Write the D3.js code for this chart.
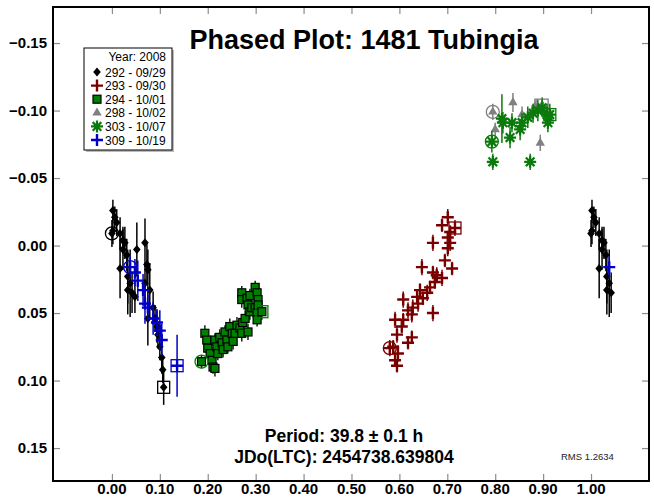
<!DOCTYPE html>
<html>
<head>
<meta charset="utf-8">
<script src="https://cdn.jsdelivr.net/npm/d3@7"></script>
<style>
body{margin:0;background:#fff;}
svg{font-family:"Liberation Sans",Arial,sans-serif;}
</style>
</head>
<body>
<div id="chart"></div>
<script>
//Legend text
var yearLabel = "Year: 2008";
var sessions = ["292 - 09/29","293 - 09/30","294 - 10/01","298 - 10/02","303 - 10/07","309 - 10/19"];
var title = "Phased Plot: 1481 Tubingia";
var periodText = "Period: 39.8 \u00b1 0.1 h";
var epochText = "JDo(LTC): 2454738.639804";
var rmsText = "RMS 1.2634";

//Tick values of both axes
var xTicks = [0,0.1,0.2,0.3,0.4,0.5,0.6,0.7,0.8,0.9,1.0];
var yTicks = [-0.15,-0.10,-0.05,0,0.05,0.10,0.15];

//Session 292 (first point gets a circle, last one a square)
var phase292 = [0.000,0.002,0.002,0.006,0.010,0.017,0.017,0.023,0.023,0.027,0.031,0.033,0.033,0.038,0.042,0.048,0.052,0.069,0.069,0.073,0.075,0.075,0.079,0.086,0.090,0.094,0.096,0.100,0.104,0.106,0.108];
var mag292 = [-0.009,-0.026,-0.011,-0.021,-0.017,-0.009,0.017,-0.004,0.003,-0.002,0.007,0.023,0.033,0.028,0.035,0.038,0.003,-0.002,0.028,0.014,0.018,0.054,0.033,0.046,0.054,0.060,0.066,0.075,0.083,0.092,0.105];
var err292 = [0.010,0.008,0.010,0.008,0.010,0.012,0.022,0.010,0.015,0.012,0.012,0.020,0.018,0.025,0.015,0.012,0.020,0.018,0.015,0.015,0.015,0.020,0.020,0.012,0.010,0.012,0.010,0.010,0.012,0.010,0.013];

//Session 293
var phase293 = [0.580,0.587,0.591,0.591,0.595,0.595,0.597,0.605,0.608,0.608,0.618,0.618,0.626,0.626,0.628,0.637,0.639,0.643,0.647,0.649,0.658,0.664,0.670,0.670,0.670,0.674,0.678,0.689,0.689,0.695,0.701,0.701,0.701,0.706,0.706,0.710,0.716];
var mag293 = [0.076,0.075,0.055,0.085,0.066,0.089,0.080,0.060,0.040,0.055,0.048,0.072,0.051,0.068,0.046,0.038,0.043,0.033,0.016,0.039,0.035,0.031,-0.002,0.020,0.050,0.027,0.022,-0.015,0.024,0.011,-0.021,-0.006,0.002,-0.010,-0.002,0.017,-0.013];
var err293 = [0.006,0.005,0.006,0.005,0.006,0.005,0.006,0.005,0.006,0.005,0.006,0.005,0.006,0.005,0.006,0.005,0.006,0.005,0.006,0.005,0.006,0.005,0.006,0.005,0.006,0.005,0.006,0.005,0.006,0.005,0.006,0.005,0.006,0.005,0.006,0.005,0.006];

//Session 294
var phase294 = [0.187,0.194,0.198,0.200,0.205,0.209,0.211,0.215,0.215,0.219,0.221,0.225,0.230,0.232,0.236,0.240,0.242,0.246,0.251,0.253,0.257,0.261,0.267,0.271,0.271,0.271,0.273,0.278,0.282,0.284,0.284,0.288,0.288,0.292,0.299,0.299,0.303,0.303,0.303,0.305,0.305,0.313];
var mag294 = [0.086,0.065,0.070,0.076,0.080,0.085,0.090,0.091,0.070,0.075,0.080,0.068,0.072,0.077,0.064,0.070,0.075,0.060,0.065,0.071,0.065,0.059,0.061,0.065,0.035,0.040,0.057,0.054,0.039,0.064,0.044,0.049,0.037,0.046,0.031,0.046,0.035,0.050,0.055,0.040,0.044,0.049];
var err294 = [0.005,0.006,0.005,0.006,0.005,0.006,0.005,0.006,0.005,0.006,0.005,0.006,0.005,0.006,0.005,0.006,0.005,0.006,0.005,0.006,0.005,0.006,0.005,0.006,0.005,0.006,0.005,0.006,0.005,0.006,0.005,0.006,0.005,0.006,0.005,0.006,0.005,0.006,0.005,0.006,0.005,0.006];

//Session 298
var phase298 = [0.795,0.800,0.837,0.856,0.877,0.883,0.894,0.898];
var mag298 = [-0.099,-0.086,-0.106,-0.097,-0.099,-0.103,-0.076,-0.104];
var err298 = [0.006,0.005,0.007,0.006,0.005,0.006,0.006,0.006];

//Session 303
var phase303 = [0.793,0.795,0.814,0.816,0.831,0.835,0.852,0.856,0.868,0.873,0.879,0.889,0.898,0.908,0.910,0.914];
var mag303 = [-0.077,-0.062,-0.094,-0.091,-0.080,-0.091,-0.086,-0.091,-0.095,-0.062,-0.098,-0.100,-0.102,-0.097,-0.091,-0.097];
var err303 = [0.008,0.006,0.018,0.008,0.008,0.007,0.008,0.007,0.008,0.006,0.007,0.008,0.007,0.008,0.007,0.008];

//Session 309
var phase309 = [0.038,0.048,0.054,0.065,0.069,0.075,0.086,0.094,0.100,0.104,0.136];
var mag309 = [0.016,0.020,0.026,0.033,0.043,0.046,0.054,0.057,0.063,0.070,0.089];
var err309 = [0.008,0.010,0.015,0.012,0.015,0.010,0.012,0.010,0.015,0.012,0.023];

function drawPhasePlot(){
    var w = 654, h = 498;
    var left = 53, top = 7, right = 649, bottom = 481;

    var svg = d3.select("#chart").append("svg")
        .attr("width", w).attr("height", h);

    var x = d3.scaleLinear().domain([-0.123, 1.121]).range([left, right]);
    var y = d3.scaleLinear().domain([-0.1767, 0.1744]).range([top, bottom]);

    //Each session with its marker style
    var series = [
        {name: sessions[0], phase: phase292, mag: mag292, err: err292, color: "#000000", bar: "#000000", sym: "diamond"},
        {name: sessions[1], phase: phase293, mag: mag293, err: err293, color: "#7a0000", bar: "#7a0000", sym: "plus"},
        {name: sessions[2], phase: phase294, mag: mag294, err: err294, color: "#008000", bar: "#0b2a0b", sym: "square"},
        {name: sessions[3], phase: phase298, mag: mag298, err: err298, color: "#808080", bar: "#808080", sym: "triangle"},
        {name: sessions[4], phase: phase303, mag: mag303, err: err303, color: "#0a7a0a", bar: "#0a7a0a", sym: "star"},
        {name: sessions[5], phase: phase309, mag: mag309, err: err309, color: "#0000c8", bar: "#0000c8", sym: "plus"}
    ];

    //Axes: ticks point inward on all four sides
    svg.append("g").attr("transform", "translate(0," + bottom + ")")
        .call(d3.axisTop(x).tickValues(xTicks).tickSize(7).tickFormat(""));
    svg.append("g").attr("transform", "translate(0," + top + ")")
        .call(d3.axisBottom(x).tickValues(xTicks).tickSize(7).tickFormat(""));
    svg.append("g").attr("transform", "translate(" + left + ",0)")
        .call(d3.axisRight(y).tickValues(yTicks).tickSize(7).tickFormat(""));
    svg.append("g").attr("transform", "translate(" + right + ",0)")
        .call(d3.axisLeft(y).tickValues(yTicks).tickSize(7).tickFormat(""));
    svg.selectAll(".domain").remove();
    svg.selectAll(".tick line").attr("stroke", "#8c8c8c").attr("stroke-width", 1.2);

    //Tick labels
    svg.selectAll(".xlab").data(xTicks).enter().append("text")
        .attr("x", function(d){ return x(d); })
        .attr("y", 494)
        .attr("text-anchor", "middle")
        .attr("font-size", 15).attr("font-weight", "bold")
        .text(function(d){ return d3.format(".2f")(d); });
    svg.selectAll(".ylab").data(yTicks).enter().append("text")
        .attr("x", 47)
        .attr("y", function(d){ return y(d) + 5; })
        .attr("text-anchor", "end")
        .attr("font-size", 15).attr("font-weight", "bold")
        .text(function(d){ return d3.format(".2f")(d); });

    //Build point list, repeating early phases after 1.0
    function points(s){
        var pts = [];
        s.phase.forEach(function(p, i){
            pts.push({p: p, m: s.mag[i], e: s.err[i]});
            if (p < 0.045) pts.push({p: p + 1, m: s.mag[i], e: s.err[i]});
        });
        return pts;
    }

    function drawSymbol(g, sym, color, cx, cy){
        if (sym === "diamond"){
            g.append("path").attr("d", "M" + cx + "," + (cy - 4.5) + "L" + (cx + 3.8) + "," + cy + "L" + cx + "," + (cy + 4.5) + "L" + (cx - 3.8) + "," + cy + "Z")
                .attr("fill", color);
        } else if (sym === "square"){
            g.append("rect").attr("x", cx - 4).attr("y", cy - 4).attr("width", 8).attr("height", 8)
                .attr("fill", color).attr("stroke", "#000").attr("stroke-width", 1.2);
        } else if (sym === "triangle"){
            g.append("path").attr("d", d3.symbol(d3.symbolTriangle, 38)())
                .attr("transform", "translate(" + cx + "," + cy + ")").attr("fill", color);
        } else if (sym === "plus"){
            g.append("path").attr("d", "M" + (cx - 6) + "," + cy + "H" + (cx + 6) + "M" + cx + "," + (cy - 6) + "V" + (cy + 6))
                .attr("stroke", color).attr("stroke-width", 2.4);
        } else if (sym === "star"){
            var r = 6, d = 4.3;
            g.append("path").attr("d", "M" + (cx - r) + "," + cy + "H" + (cx + r) + "M" + cx + "," + (cy - r) + "V" + (cy + r) +
                "M" + (cx - d) + "," + (cy - d) + "L" + (cx + d) + "," + (cy + d) + "M" + (cx - d) + "," + (cy + d) + "L" + (cx + d) + "," + (cy - d))
                .attr("stroke", color).attr("stroke-width", 2.2);
        }
    }

    var plot = svg.append("g");
    series.forEach(function(s){
        var pts = points(s);
        var g = plot.append("g");
        //Error bars
        g.selectAll("line").data(pts).enter().append("line")
            .attr("x1", function(d){ return x(d.p); })
            .attr("x2", function(d){ return x(d.p); })
            .attr("y1", function(d){ return y(d.m - d.e); })
            .attr("y2", function(d){ return y(d.m + d.e); })
            .attr("stroke", s.bar).attr("stroke-width", 1.5);
        pts.forEach(function(d){ drawSymbol(g, s.sym, s.color, x(d.p), y(d.m)); });
        //Circle on first point, square on last
        var n = s.phase.length - 1;
        g.append("circle").attr("cx", x(s.phase[0])).attr("cy", y(s.mag[0])).attr("r", 6.5)
            .attr("fill", "none").attr("stroke", s.color).attr("stroke-width", 1.3);
        g.append("rect").attr("x", x(s.phase[n]) - 6).attr("y", y(s.mag[n]) - 6)
            .attr("width", 12).attr("height", 12)
            .attr("fill", "none").attr("stroke", s.color).attr("stroke-width", 1.3);
    });

    //Frame
    svg.append("rect").attr("x", left).attr("y", top)
        .attr("width", right - left).attr("height", bottom - top)
        .attr("fill", "none").attr("stroke", "#000").attr("stroke-width", 2);

    //Title and notes
    svg.append("text").attr("x", 364).attr("y", 49).attr("text-anchor", "middle")
        .attr("font-size", 27).attr("font-weight", "bold").text(title);
    svg.append("text").attr("x", 344).attr("y", 442).attr("text-anchor", "middle")
        .attr("font-size", 17.5).attr("font-weight", "bold").text(periodText);
    svg.append("text").attr("x", 344).attr("y", 463).attr("text-anchor", "middle")
        .attr("font-size", 17.5).attr("font-weight", "bold").text(epochText);
    svg.append("text").attr("x", 561).attr("y", 460)
        .attr("font-size", 9.5).attr("fill", "#222").text(rmsText);

    //Legend
    var lg = svg.append("g");
    lg.append("rect").attr("x", 86).attr("y", 50).attr("width", 88).attr("height", 102).attr("fill", "#bbb");
    lg.append("rect").attr("x", 84).attr("y", 48).attr("width", 88).attr("height", 102)
        .attr("fill", "#fff").attr("stroke", "#000").attr("stroke-width", 1);
    lg.append("text").attr("x", 166).attr("y", 61).attr("text-anchor", "end")
        .attr("font-size", 12).text(yearLabel);
    series.forEach(function(s, i){
        var cy = 72 + i * 13.6;
        drawSymbol(lg, s.sym, s.color, 97, cy);
        lg.append("text").attr("x", 105).attr("y", cy + 4.5)
            .attr("font-size", 12).text(s.name);
    });
}

window.onload = function(){
    drawPhasePlot();
};
</script>
</body>
</html>
